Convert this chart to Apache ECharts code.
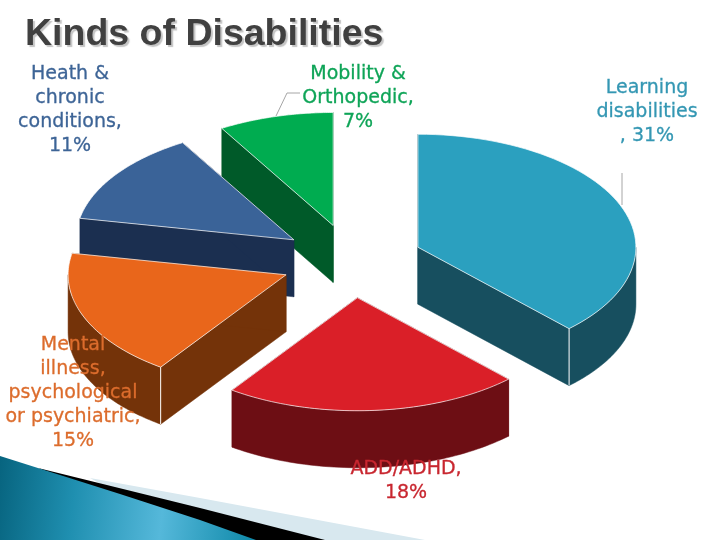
<!DOCTYPE html>
<html><head><meta charset="utf-8">
<style>html,body{margin:0;padding:0;background:#fff}#c{width:720px;height:540px}</style>
<script src="https://cdn.jsdelivr.net/npm/echarts@6/dist/echarts.min.js"></script>
</head><body><div id="c"></div>
<script>
var titleText = 'Kinds of Disabilities';
var categories = ['Learning disabilities', 'ADD/ADHD', 'Mental illness, psychological or psychiatric', 'Heath & chronic conditions', 'Mobility & Orthopedic'];
var values = [31, 18, 15, 11, 7];
var labelTexts = ['Learning\ndisabilities\n, 31%', 'ADD/ADHD,\n18%', 'Mental\nillness,\npsychological\nor psychiatric,\n15%', 'Heath &\nchronic\nconditions,\n11%', 'Mobility &\nOrthopedic,\n7%'];
var topColors = ['#2ba0bf', '#da1f28', '#e9661b', '#3a6398', '#00ac50'];
var wallColors = ['#174f5f', '#6d0e14', '#743309', '#1b2f50', '#005a29'];
var labelColors = ['#3497b3', '#c8262f', '#dc6c2c', '#3d6496', '#0ea457'];
var labelCenters = [[647, 112], [406, 481], [73, 393], [70, 110], [358, 98]];

var CX = 351.5, CY = 261, RX = 218, RY = 113, DEPTH = 57, EXPLODE = 0.326;
var total = values.reduce(function (a, b) { return a + b; }, 0);
var slices = [], acc = 0;
values.forEach(function (v, i) {
  var s = acc / total * 2 * Math.PI; acc += v;
  var e = acc / total * 2 * Math.PI, m = (s + e) / 2;
  slices.push({ i: i, s: s, e: e,
    cx: CX + EXPLODE * RX * Math.sin(m) + 0.5,
    cy: CY - EXPLODE * RY * Math.cos(m) });
});
slices.sort(function (a, b) { return a.cy - b.cy; });

function renderItem(params, api) {
  var sl = slices[api.value(0)];
  var n = 60, k, halfPi = Math.PI / 2;
  var pt = function (t) { return [sl.cx + RX * Math.sin(t), sl.cy - RY * Math.cos(t)]; };
  var down = function (p) { return [p[0], p[1] + DEPTH]; };
  var apex = [sl.cx, sl.cy];
  var arc = [];
  for (k = 0; k <= n; k++) arc.push(pt(sl.s + (sl.e - sl.s) * k / n));
  var wallStyle = { fill: wallColors[sl.i], stroke: wallColors[sl.i], lineWidth: 0.5 };
  var kids = [
    { type: 'polygon', shape: { points: [apex, arc[0], down(arc[0]), down(apex)] }, style: wallStyle },
    { type: 'polygon', shape: { points: [apex, arc[n], down(arc[n]), down(apex)] }, style: wallStyle }
  ];
  var vs = Math.max(sl.s, halfPi), ve = Math.min(sl.e, 3 * halfPi);
  if (ve > vs) {
    var front = [];
    for (k = 0; k <= n; k++) front.push(pt(vs + (ve - vs) * k / n));
    kids.push({ type: 'polygon', shape: { points: front.concat(front.map(down).reverse()) }, style: wallStyle });
  }
  kids.push({ type: 'polygon', shape: { points: [apex].concat(arc) },
    style: { fill: topColors[sl.i], stroke: '#ffffff', lineWidth: 0.7 } });
  var corners = [];
  if (sl.e > halfPi && sl.e < Math.PI) corners.push(arc[n]);
  if (sl.s > Math.PI && sl.s < 3 * halfPi) corners.push(arc[0]);
  corners.forEach(function (p) {
    kids.push({ type: 'line', shape: { x1: p[0], y1: p[1], x2: p[0], y2: p[1] + DEPTH },
      style: { stroke: '#ffffff', lineWidth: 1 } });
  });
  return { type: 'group', children: kids };
}

var graphics = [
  { type: 'polygon', z: 1, shape: { points: [[90, 478], [200, 498], [425, 540], [200, 540]] }, style: { fill: '#d8e8ef' } },
  { type: 'polygon', z: 2, shape: { points: [[38, 468], [200, 508], [325, 540], [200, 540]] }, style: { fill: '#000000' } },
  { type: 'polygon', z: 3, shape: { points: [[0, 456], [120, 494], [200, 520], [256, 540], [0, 540]] },
    style: { fill: new echarts.graphic.LinearGradient(0, 0, 1, 0.35, [
      { offset: 0, color: '#07647f' }, { offset: 0.3, color: '#1f8fb0' },
      { offset: 0.65, color: '#55b8da' }, { offset: 1, color: '#128bab' }]) } },
  { type: 'polyline', z: 20, shape: { points: [[276, 116], [287, 93], [300, 93]] }, style: { stroke: '#a6a6a6', lineWidth: 1, fill: 'none' } },
  { type: 'line', z: 20, shape: { x1: 622, y1: 173, x2: 622, y2: 205 }, style: { stroke: '#a6a6a6', lineWidth: 1 } }
];
labelTexts.forEach(function (txt, i) {
  graphics.push({ type: 'text', z: 30, x: labelCenters[i][0], y: labelCenters[i][1],
    style: { text: txt, fill: labelColors[i], font: '19px "DejaVu Sans"', lineHeight: 24, align: 'center', verticalAlign: 'middle',
      stroke: labelColors[i], lineWidth: 0.3 } });
});

var chart = echarts.init(document.getElementById('c'), null, { renderer: 'canvas' });
chart.setOption({
  animation: false,
  backgroundColor: '#ffffff',
  title: { text: titleText, left: 25, top: 16, padding: 0,
    textStyle: { color: '#404040', fontFamily: 'Liberation Sans', fontWeight: 'bold', fontSize: 37.5,
      textShadowColor: '#c4c4c4', textShadowOffsetX: 2, textShadowOffsetY: 2, textShadowBlur: 1 } },
  graphic: graphics,
  series: [{ type: 'custom', coordinateSystem: 'none', z: 10, silent: true,
    data: slices.map(function (s, idx) { return [idx, values[s.i], categories[s.i]]; }),
    renderItem: renderItem }]
});
</script></body></html>
